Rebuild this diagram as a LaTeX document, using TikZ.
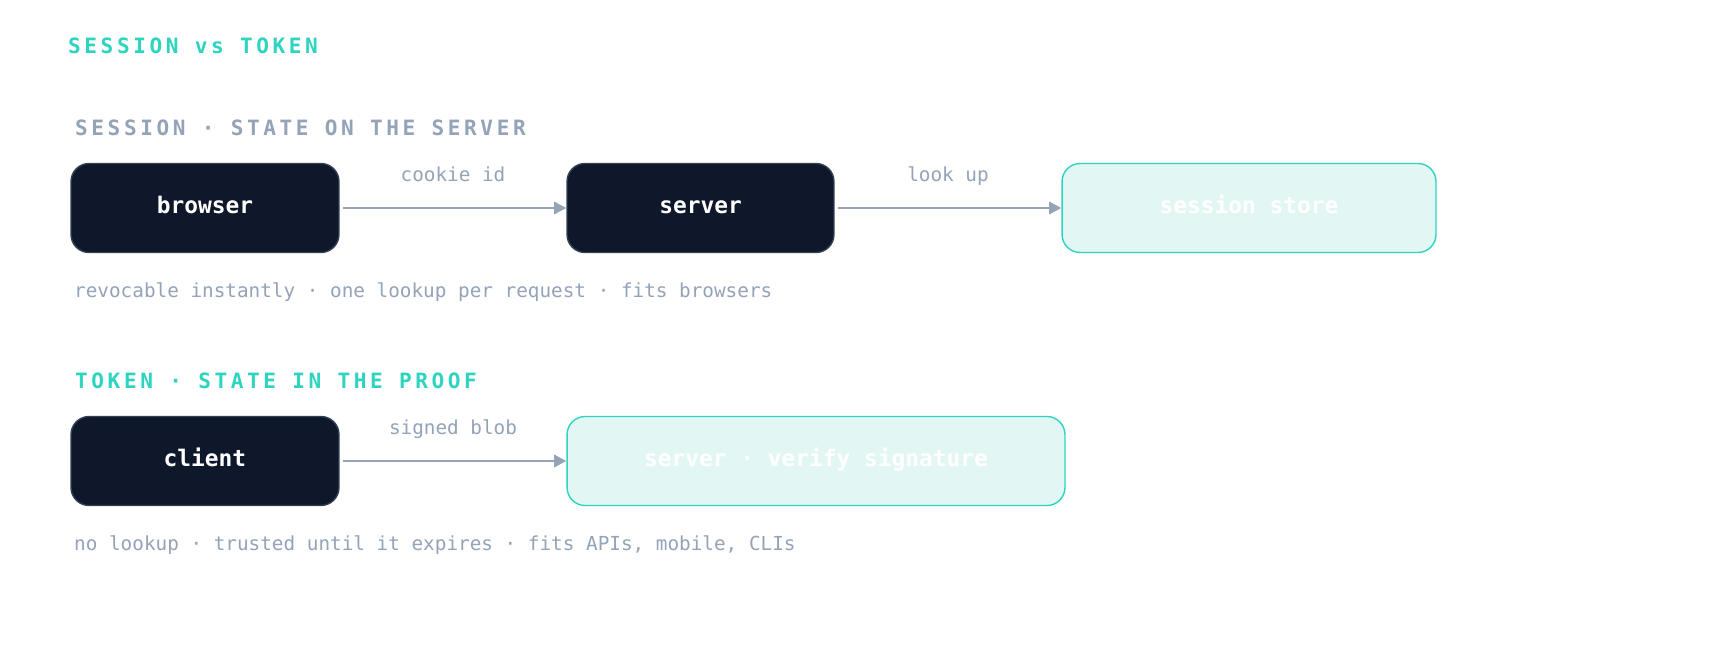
\documentclass[tikz,border=0pt]{standalone}
\usepackage{fontspec}
\setmainfont{DejaVu Sans Mono}
\newfontfamily\spaced[LetterSpace=17]{DejaVu Sans Mono}
\usetikzlibrary{arrows.meta,positioning}
\definecolor{ink}{HTML}{0F172A}
\definecolor{edge}{HTML}{334155}
\definecolor{teal}{HTML}{2DD4BF}
\definecolor{mint}{HTML}{E2F7F3}
\definecolor{slate}{HTML}{94A3B8}
\tikzset{
  dark/.style={draw=edge, fill=ink, rounded corners=0.36cm, line width=0.8pt,
    minimum height=1.78cm, text=white, text height=1.6ex, text depth=0.4ex,
    font=\fontsize{13}{15}\selectfont\bfseries},
  light/.style={draw=teal, fill=mint, rounded corners=0.36cm, line width=0.8pt,
    minimum height=1.78cm, text=white, text height=1.6ex, text depth=0.4ex,
    font=\fontsize{13}{15}\selectfont\bfseries},
  flow/.style={draw=slate, line width=1.6pt, shorten <=2pt, -{Triangle[length=7pt,width=7pt]}},
  lbl/.style={text=slate, text height=1.6ex, text depth=0.4ex, font=\fontsize{11}{13}\selectfont},
  head/.style={anchor=west, font=\fontsize{12}{14}\selectfont\bfseries\spaced}
}
\begin{document}
\begin{tikzpicture}[x=0.02cm,y=-0.02cm]
\useasboundingbox[fill=white] (0,0) rectangle (1720,645);

% Title
\node[head, text=teal] (title) at (62,46) {SESSION vs TOKEN};

% Session row
\node[head, text=slate] (shead) at (69,128) {SESSION · STATE ON THE SERVER};
\node[dark, minimum width=5.36cm] (browser) at (205,208) {browser};
\node[dark, minimum width=5.34cm] (server) at (700.5,208) {server};
\node[light, minimum width=7.48cm] (store) at (1249,208) {session store};
\draw[flow] (browser) -- node[lbl, above=0.3cm] {cookie id} (server);
\draw[flow] (server) -- node[lbl, above=0.3cm] {look up} (store);
\node[lbl, anchor=west] (snote) at (68,292) {revocable instantly · one lookup per request · fits browsers};

% Token row
\node[head, text=teal] (thead) at (69,381) {TOKEN · STATE IN THE PROOF};
\node[dark, minimum width=5.36cm] (client) at (205,461) {client};
\node[light, minimum width=9.96cm] (verify) at (816,461) {server · verify signature};
\draw[flow] (client) -- node[lbl, above=0.3cm] {signed blob} (verify);
\node[lbl, anchor=west] (tnote) at (68,545) {no lookup · trusted until it expires · fits APIs, mobile, CLIs};
\end{tikzpicture}
\end{document}
